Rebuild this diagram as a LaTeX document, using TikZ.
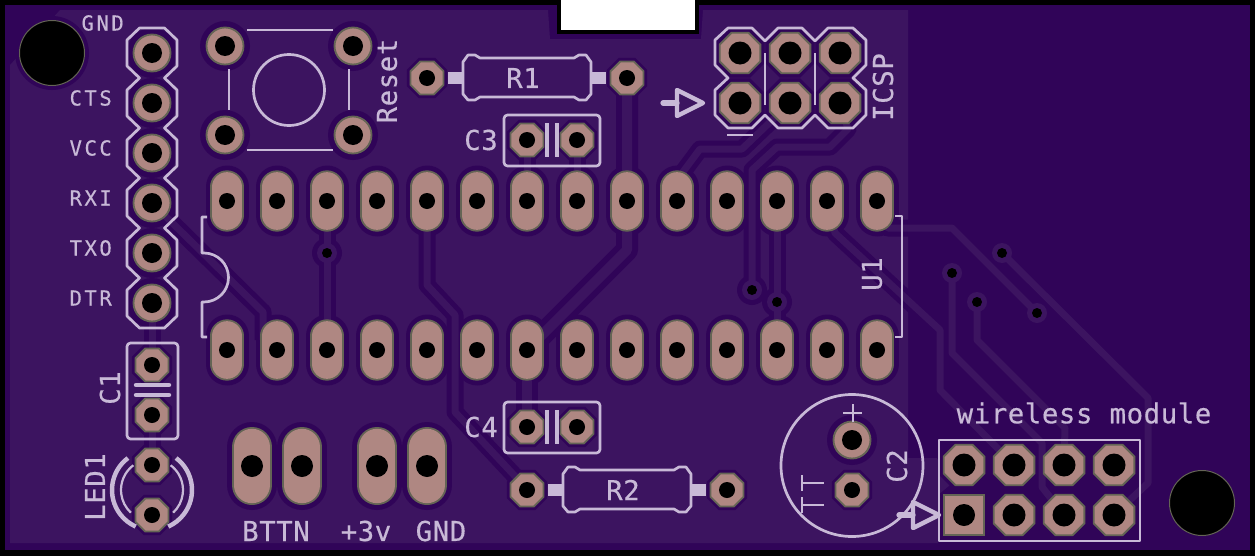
\documentclass[tikz,border=0pt]{standalone}
\usepackage{fontspec}
\usepackage{tikz}
\usetikzlibrary{shapes.geometric}

\newfontfamily\silksmall[LetterSpace=12, FakeBold=0.4]{DejaVu Sans Mono}
\newfontfamily\silkbig[LetterSpace=2, FakeBold=0.4]{DejaVu Sans Mono}

\definecolor{boardDark}{HTML}{300458}
\definecolor{boardFill}{HTML}{3C1460}
\definecolor{padCopper}{HTML}{AF8782}
\definecolor{padEdge}{HTML}{646455}
\definecolor{silk}{HTML}{C8B9D7}

\def\holesIcsp{740/53, 790/53, 840/53, 740/103, 790/103, 840/103, 1014/465, 1064/465, 1114/465, 964/465, 1014/515, 1064/515, 1114/515}
\def\octSmall{427/78, 627/78, 527/140, 577/140, 527/427, 577/427, 527/490, 727/490, 152/365, 152/415, 152/465, 152/515, 852/490}
\def\roundMid{152/53, 152/103, 152/153, 152/203, 152/253, 152/303, 225/46, 353/46, 225/135, 353/135, 852/440}
\def\bigPads{252, 302, 377, 427}
\def\viaList{327/253, 752/290, 777/302, 952/273, 1002/253, 977/302, 1037/313}

\tikzset{
	silkline/.style = {draw = silk, line width = 2.3pt, line join = round},
	silkthin/.style = {draw = silk, line width = 1.9pt},
	silksm/.style = {text = silk, inner sep = 0, font = \silksmall\fontsize{17.6}{18}\selectfont},
	silklg/.style = {text = silk, inner sep = 0, font = \silkbig\fontsize{23.4}{24}\selectfont},
	octpad/.style = {regular polygon, regular polygon sides = 8, draw = padEdge, fill = padCopper, line width = 0.055cm, inner sep = 0, minimum size = #1},
	octgap/.style = {regular polygon, regular polygon sides = 8, fill = boardDark, inner sep = 0, minimum size = #1},
	tracklo/.style = {draw = boardDark, line width = 0.51cm, line join = round},
	trackhi/.style = {draw = boardFill, line width = 0.21cm, line join = round},
	tracklob/.style = {draw = boardDark, line width = 0.66cm, line join = round},
	trackhib/.style = {draw = boardFill, line width = 0.30cm, line join = round}
}

% the routed copper
\def\trackA{(627,78) -- (627,250) -- (527,350)}
\def\trackB{(152,203) -- (263,312) -- (263,340)}
\def\trackC{(327,201) -- (327,350)}
\def\trackD{(427,201) -- (427,285) -- (455,315) -- (455,412) -- (527,489)}
\def\trackE{(527,350) -- (527,427)}
\def\trackF{(152,303) -- (152,365)}
\def\trackG{(152,415) -- (152,465)}
\def\trackH{(527,140) -- (527,201)}
\def\trackI{(577,140) -- (577,201)}
\def\trackJ{(790,103) -- (742,149) -- (700,149) -- (677,180)}
\def\trackK{(840,103) -- (848,129) -- (830,147) -- (777,147) -- (752,170) -- (752,290)}
\def\trackL{(777,201) -- (777,350)}
\def\trackM{(877,215) -- (888,228) -- (952,228) -- (1037,313)}
\def\trackN{(1002,253) -- (1148,398) -- (1148,483) -- (1114,515)}
\def\trackO{(952,273) -- (952,353) -- (1042,443) -- (1042,487) -- (1064,515)}
\def\trackP{(977,302) -- (977,340) -- (1065,428) -- (1064,465)}
\def\trackQ{(827,201) -- (835,233) -- (940,330) -- (940,390) -- (1014,465)}

\begin{document}
\begin{tikzpicture}[x = 0.03cm, y = -0.03cm]

\useasboundingbox (0,0) rectangle (1255,556);

% board and copper pour
\fill[black] (0,0) rectangle (1255,556);
\fill[boardDark] (5,5) rectangle (1250,550);
\fill[boardFill] (60,10) -- (548,10) -- (550,39) -- (701,39) -- (703,10) -- (908,10) -- (908,458)
	-- (937,458) -- (950,485) -- (938,495) -- (938,543) -- (10,543) -- (10,65) -- cycle;
\fill[black] (557,0) rectangle (699,34);
\fill[white] (561,0) rectangle (695,30);
\fill[boardDark] (52,53) circle (37);

% isolation round the tracks
\foreach \t in {\trackB, \trackC, \trackD, \trackF, \trackG, \trackH, \trackI, \trackJ, \trackK, \trackL, \trackM, \trackN, \trackO, \trackP, \trackQ}
	\draw[tracklo] \t;
\foreach \t in {\trackA, \trackE}
	\draw[tracklob] \t;

% isolation round the pads
\foreach \x in {227, 277, ..., 877} {
	\draw[boardDark, line width = 1.29cm, line cap = round] (\x, 187) -- (\x, 215);
	\draw[boardDark, line width = 1.29cm, line cap = round] (\x, 336) -- (\x, 364);
}
\foreach \x in \bigPads
	\draw[boardDark, line width = 1.5cm, line cap = round] (\x, 447) -- (\x, 485);
\foreach \x/\y in \holesIcsp
	\node[octgap = 1.6cm] (gapa\x\y) at (\x, \y) {};
\foreach \x/\y in \octSmall
	\node[octgap = 1.3cm] (gapb\x\y) at (\x, \y) {};
\node[octgap = 1.6cm] (gapc) at (964, 515) {};
\foreach \x/\y in \roundMid
	\fill[boardDark] (\x, \y) circle (25);
\foreach \x/\y in \viaList
	\fill[boardDark] (\x, \y) circle (15);

\foreach \t in {\trackB, \trackC, \trackD, \trackF, \trackG, \trackH, \trackI, \trackJ, \trackK, \trackL, \trackM, \trackN, \trackO, \trackP, \trackQ}
	\draw[trackhi] \t;
\foreach \t in {\trackA, \trackE}
	\draw[trackhib] \t;
\foreach \x/\y in \viaList {
	\fill[boardFill] (\x, \y) circle (10);
	\fill[black] (\x, \y) circle (5);
}

% the pads
\foreach \x in {227, 277, ..., 877} {
	\foreach \y in {201, 350} {
		\draw[padEdge, line width = 1cm, line cap = round] (\x, \y - 14) -- (\x, \y + 14);
		\draw[padCopper, line width = 0.89cm, line cap = round] (\x, \y - 14) -- (\x, \y + 14);
		\fill[black] (\x, \y) circle (8);
	}
}
\foreach \x in \bigPads {
	\draw[padEdge, line width = 1.2cm, line cap = round] (\x, 447) -- (\x, 485);
	\draw[padCopper, line width = 1.09cm, line cap = round] (\x, 447) -- (\x, 485);
	\fill[black] (\x, 466) circle (11);
}
\foreach \x/\y in \holesIcsp {
	\node[octpad = 1.32cm] (pada\x\y) at (\x, \y) {};
	\fill[black] (\x, \y) circle (11.5);
}
\foreach \x/\y in \octSmall {
	\node[octpad = 1.07cm] (padb\x\y) at (\x, \y) {};
	\fill[black] (\x, \y) circle (8);
}
\foreach \x/\y in \roundMid {
	\fill[padCopper, draw = padEdge, line width = 0.055cm] (\x, \y) circle (18.5);
	\fill[black] (\x, \y) circle (10);
}
\fill[padCopper, draw = padEdge, line width = 0.055cm] (944,495) rectangle (984,535);
\fill[black] (964,515) circle (11);

% mounting holes
\foreach \x/\y in {52/53, 1202/503}
	\fill[black, draw = padEdge, line width = 0.03cm] (\x, \y) circle (32.5);

% header outline
\draw[silkline] (139.5,28) -- (164.5,28)
	foreach \c in {53, 103, ..., 303} { -- (177,\c - 13) -- (177,\c + 13) -- (164.5,\c + 25) }
	-- (139.5,328)
	foreach \c in {303, 253, ..., 53} { -- (127,\c + 13) -- (127,\c - 13) -- (139.5,\c - 25) } -- cycle;
\foreach \y/\l in {103/CTS, 153/VCC, 203/RXI, 253/TXO, 303/DTR}
	\node[silksm, anchor = east] (lab\l) at (112, \y - 5) {\l};
\node[silksm, anchor = east] (labGND) at (124, 23) {GND};

% reset button
\draw[silkline] (247,30) -- (333,30);
\draw[silkline] (247,150) -- (333,150);
\draw[silkline] (229,69) -- (229,110);
\draw[silkline] (349,69) -- (349,110);
\draw[silkline] (289,90) circle (35.5);
\node[silklg, rotate = 90] (labReset) at (387, 81) {Reset};

% resistors
\foreach \cx/\cy/\l in {527/78/R1, 627/490/R2} {
	\begin{scope}[shift = {(\cx, \cy)}]
	\fill[silk] (-79,-6) rectangle (-64,6);
	\fill[silk] (64,-6) rectangle (79,6);
	\draw[silkline] (-64,-16) -- (-59,-23) -- (-52,-23) -- (-47,-20) -- (47,-20) -- (52,-23) -- (59,-23) -- (64,-16)
		-- (64,16) -- (59,22) -- (52,22) -- (47,19) -- (-47,19) -- (-52,22) -- (-59,22) -- (-64,16) -- cycle;
	\node[silklg] (lab\l) at (-4, 0) {\l};
	\end{scope}
}

% small capacitors
\foreach \cy/\l in {140/C3, 427/C4} {
	\begin{scope}[yshift = \cy * -0.03cm]
	\draw[silkline, rounded corners = 3pt] (504,-25) rectangle (600,26);
	\draw[silk, line width = 3.8pt] (547,-17) -- (547,17);
	\draw[silk, line width = 3.8pt] (557,-17) -- (557,17);
	\node[silklg] (lab\l) at (481, 0) {\l};
	\end{scope}
}
\draw[silkline, rounded corners = 3pt] (127,343) rectangle (178,439);
\draw[silk, line width = 3.8pt, line cap = round] (136,385) -- (169,385);
\draw[silk, line width = 3.8pt, line cap = round] (136,395) -- (169,395);
\node[silklg, rotate = 90] (labCa) at (110, 388) {C1};

% led
\draw[silk, line width = 3.8pt] (152,490) ++(233:40) arc[start angle = 233, end angle = 114, radius = 40];
\draw[silk, line width = 3.8pt] (152,490) ++(-53:40) arc[start angle = -53, end angle = 66, radius = 40];
\draw[silkthin] (152,490) ++(233:31) arc[start angle = 233, end angle = 133, radius = 31];
\draw[silkthin] (152,490) ++(-53:31) arc[start angle = -53, end angle = 47, radius = 31];
\node[silklg, rotate = 90] (labLed) at (95, 487) {LED1};

% chip outline
\draw[silkline] (207,217) -- (202,217) -- (202,253) -- (204,253) arc[start angle = -90, end angle = 90, radius = 24.5]
	-- (202,302) -- (202,337) -- (207,337);
\draw[silkline] (895,216) -- (902,216) -- (902,337) -- (895,337);
\node[silklg, rotate = 90] (labUa) at (872, 274) {U1};

% power labels
\foreach \x/\l in {276/BTTN, 366/+3v, 441/GND}
	\node[silklg] (lab\l) at (\x, 531) {\l};

% electrolytic capacitor
\draw[silkline] (852,465.5) circle (71);
\draw[silkline] (843,413) -- (862,413);
\draw[silkline] (853,404) -- (853,422);
\draw[silkline] (802,475) -- (802,491);
\draw[silkline] (802,497) -- (802,513);
\draw[silkline] (802,483) -- (824,483);
\draw[silkline] (802,505) -- (824,505);
\node[silklg, rotate = 90] (labCb) at (897, 466) {C2};

% icsp outline
\draw[silkline] (715,40) -- (728,28) -- (752,28) -- (765,41) -- (778,28) -- (802,28) -- (815,41) -- (828,28) -- (853,28) -- (866,40)
	-- (866,65) -- (853,78) -- (866,90) -- (866,115) -- (853,128) -- (828,128) -- (815,115) -- (802,128) -- (778,128)
	-- (765,115) -- (752,128) -- (728,128) -- (715,115) -- (715,90) -- (728,78) -- (715,65) -- cycle;
\draw[silkthin] (765,53) -- (765,105);
\draw[silkthin] (815,53) -- (815,105);
\draw[silkline] (727,135) -- (753,135);
\node[silklg, rotate = 90] (labIcsp) at (883, 87) {ICSP};

% first pin markers
\foreach \x/\y in {677/103, 913/515} {
	\draw[silk, line width = 3.8pt, line join = round] (\x, \y - 13) -- (\x + 26, \y) -- (\x, \y + 13) -- cycle;
	\draw[silk, line width = 4.5pt, line cap = round] (\x - 14, \y) -- (\x, \y);
}

% wireless header
\draw[silkline] (939,440) rectangle (1140,541);
\node[silklg] (labWireless) at (1084, 413) {wireless module};

\end{tikzpicture}
\end{document}
